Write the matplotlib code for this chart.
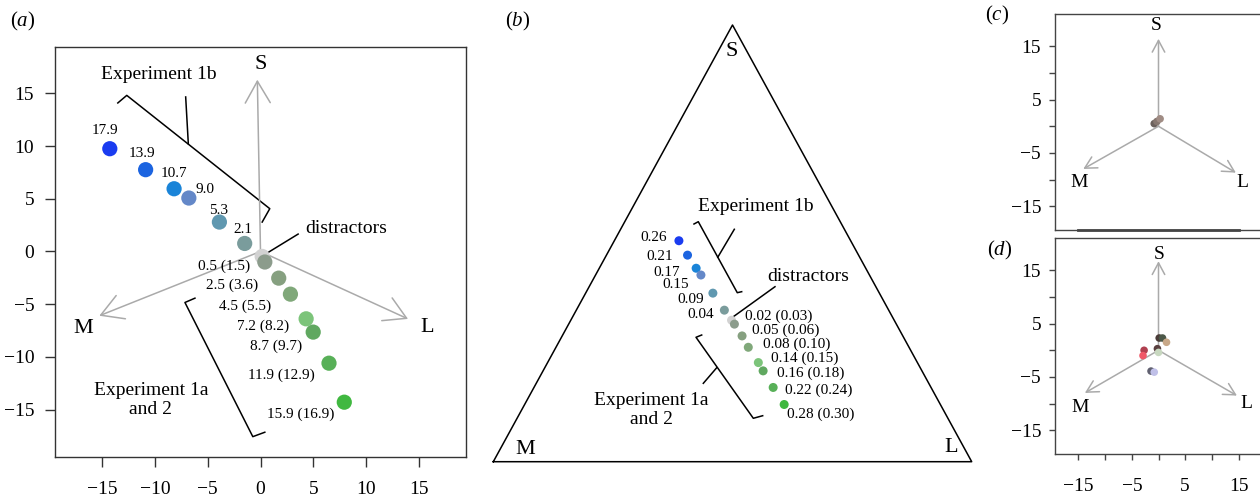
import matplotlib
matplotlib.use('Agg')
import matplotlib.pyplot as plt

plt.rcParams['font.family'] = ['Liberation Serif', 'DejaVu Serif']
plt.rcParams['mathtext.fontset'] = 'custom'
plt.rcParams['mathtext.rm'] = 'Liberation Serif'
plt.rcParams['mathtext.it'] = 'Liberation Serif:italic'

W, H = 1260, 497

# ---- data (a): cone-contrast space positions
a_x = [-14.3, -10.9, -8.2, -6.8, -3.9, -1.5, 0.16, 0.41, 1.73, 2.84, 4.33, 5.0, 6.5, 7.95]
a_y = [9.75, 7.76, 5.95, 5.07, 2.79, 0.76, -0.47, -1.0, -2.53, -4.05, -6.39, -7.65, -10.6, -14.3]
colors = ['#1a3cf0', '#1c64e0', '#1a84d8', '#6488c8', '#6098b0', '#7a9c9c', '#d2d2d2',
          '#8c9c8c', '#86a080', '#80a87a', '#7cc47a', '#60a860', '#58b058', '#40b840']
a_labels = ['17.9', '13.9', '10.7', '9.0', '5.3', '2.1', '',
            '0.5 (1.5)', '2.5 (3.6)', '4.5 (5.5)', '7.2 (8.2)', '8.7 (9.7)',
            '11.9 (12.9)', '15.9 (16.9)']

# ---- data (b): positions inside the triangle (M=(0,0), L=(1,0), S=(0.5,1))
b_x = [0.388, 0.406, 0.424, 0.434, 0.459, 0.483, 0.498, 0.504, 0.520, 0.533, 0.554, 0.564, 0.585, 0.608]
b_y = [0.506, 0.473, 0.443, 0.4275, 0.386, 0.347, 0.324, 0.315, 0.288, 0.262, 0.227, 0.208, 0.170, 0.131]
b_labels = ['0.26', '0.21', '0.17', '0.15', '0.09', '0.04', '',
            '0.02 (0.03)', '0.05 (0.06)', '0.08 (0.10)', '0.14 (0.15)', '0.16 (0.18)',
            '0.22 (0.24)', '0.28 (0.30)']

# ---- data (c) and (d)
c_x = [-0.8, -0.3, 0.3]
c_y = [0.5, 0.9, 1.4]
c_col = ['#6a605c', '#85766f', '#a08c84']
d_x = [0.13, 0.75, 1.5, -2.7, -2.9, -0.2, 0.0, -1.4, -0.8]
d_y = [2.3, 2.3, 1.5, 0.0, -1.0, 0.3, -0.4, -3.9, -4.1]
d_col = ['#4a3c38', '#4c5848', '#c8a888', '#b04050', '#f05868', '#5a4040', '#c8d8c0',
         '#606070', '#c0c0e8']

# label offsets in pixels (layout, y up)
a_off = [(-5, 18), (-4, 16), (0, 15), (16, 9), (-1, 12), (-2, 14), (0, 0),
         (-15, -4), (-21, -7), (-19, -12), (-17, -7), (-11, -14), (-14, -12), (-10, -12)]
b_off = [(-12, 3), (-15, -1), (-16, -4), (-12, -9), (-9, -6), (-10, -4), (0, 0),
         (11, 8), (10, 6), (15, 3), (13, 4), (14, -2), (12, -3), (3, -10)]

fig = plt.figure(figsize=(W / 100, H / 100), dpi=100)


def px_axes(l, t, r, b):
    return fig.add_axes([l / W, 1 - b / H, (r - l) / W, (b - t) / H])


def cone_arrows(ax, tips, labs, lab_pos, hl, hw, fs):
    for (tx, ty), lab, (lx, ly) in zip(tips, labs, lab_pos):
        ax.annotate('', xy=(tx, ty), xytext=(0, 0),
                    arrowprops=dict(arrowstyle='->,head_length=%g,head_width=%g' % (hl, hw),
                                    color='#aaaaaa', lw=1.1, shrinkA=0, shrinkB=0))
        ax.text(lx, ly, lab, fontsize=fs, ha='center', va='center')


def frame(ax, col):
    for s in ax.spines.values():
        s.set_color(col)
        s.set_linewidth(1.0)


# ================= panel (a)
ax = px_axes(55, 47, 466, 457)
ax.set_xlim(-19.5, 19.5)
ax.set_ylim(-19.5, 19.4)
frame(ax, '#333333')
ticks = [-15, -10, -5, 0, 5, 10, 15]
tick_txt = ['\u221215', '\u221210', '\u22125', '0', '5', '10', '15']
ax.set_xticks(ticks)
ax.set_yticks(ticks)
ax.set_xticklabels(tick_txt)
ax.set_yticklabels(tick_txt)
ax.tick_params(axis='both', direction='out', length=7, width=1, color='#333333', labelsize=14)
ax.tick_params(axis='x', pad=10)
ax.tick_params(axis='y', pad=8)

cone_arrows(ax, [(-0.3, 16.3), (-15.3, -6.1), (14.0, -6.4)], ['S', 'M', 'L'],
            [(0.0, 17.7), (-16.8, -7.3), (15.8, -7.2)], 1.56, 0.9, 16)
ax.scatter(a_x, a_y, s=120, c=colors, edgecolors='none', zorder=3)
for i, lab in enumerate(a_labels):
    if not lab:
        continue
    ha = 'center' if i < 6 else 'right'
    ax.annotate(lab, (a_x[i], a_y[i]), xytext=a_off[i], textcoords='offset pixels',
                ha=ha, va='center', fontsize=11)

# brackets and leader lines
ax.plot([-13.54, -12.69, 0.88, 0.16], [14.09, 14.81, 4.06, 2.79], color='black', lw=1.1)
ax.plot([-6.85, -7.10], [10.23, 14.66], color='black', lw=1.1)
ax.plot([-6.22, -7.17, -0.73, 0.41], [-4.43, -4.84, -17.57, -17.15], color='black', lw=1.1)
ax.plot([3.57, 0.63], [1.65, -0.15], color='black', lw=1.1)
ax.text(-9.63, 16.78, 'Experiment 1b', fontsize=14, ha='center', va='center')
ax.text(8.1, 2.2, 'distractors', fontsize=14, ha='center', va='center')
ax.text(-10.4, -14.1, 'Experiment 1a\nand 2', fontsize=14, ha='center', va='center',
        linespacing=1.2)

# ================= panel (b)
bx = px_axes(493.3, 25, 971.7, 461.7)
bx.set_xlim(0, 1)
bx.set_ylim(0, 1)
bx.axis('off')
bx.plot([0, 1, 0.5, 0], [0, 0, 1, 0], color='black', lw=1.1, clip_on=False)
bx.text(0.498, 0.939, 'S', fontsize=16, ha='center', va='center')
bx.text(0.066, 0.027, 'M', fontsize=16, ha='center', va='center')
bx.text(0.958, 0.033, 'L', fontsize=16, ha='center', va='center')
bx.scatter(b_x, b_y, s=42, c=colors, edgecolors='none', zorder=3)
for i, lab in enumerate(b_labels):
    if not lab:
        continue
    ha = 'right' if i < 6 else 'left'
    bx.annotate(lab, (b_x[i], b_y[i]), xytext=b_off[i],
                textcoords='offset pixels', ha=ha, va='center', fontsize=11)
bx.plot([0.4195, 0.4285, 0.5100, 0.5192], [0.5443, 0.5496, 0.3870, 0.3893], color='black', lw=1.1)
bx.plot([0.5038, 0.4693], [0.5322, 0.4683], color='black', lw=1.1)
bx.plot([0.4356, 0.4237, 0.5435, 0.5631], [0.2901, 0.2849, 0.0994, 0.1053], color='black', lw=1.1)
bx.plot([0.4670, 0.4390], [0.2152, 0.1795], color='black', lw=1.1)
bx.plot([0.5888, 0.5017], [0.4007, 0.3320], color='black', lw=1.1)
bx.text(0.5485, 0.5839, 'Experiment 1b', fontsize=14, ha='center', va='center')
bx.text(0.6585, 0.4236, 'distractors', fontsize=14, ha='center', va='center')
bx.text(0.3311, 0.1184, 'Experiment 1a\nand 2', fontsize=14, ha='center', va='center',
        linespacing=1.2)

# ================= panels (c) and (d)
small_labs = ['\u221215', '', '\u22125', '', '5', '', '15']


def small_panel(top, bottom, px, py, pc, tips, lab_pos, show_x):
    sx = px_axes(1055, top, 1262, bottom)
    sx.set_xlim(-19.4, 19.4)
    sx.set_ylim(-19.45, 21.0)
    frame(sx, '#444444')
    sx.set_yticks(ticks)
    sx.set_yticklabels(small_labs)
    sx.set_xticks(ticks)
    if show_x:
        sx.set_xticklabels(small_labs)
        sx.tick_params(axis='x', direction='out', length=4, width=1, color='#444444',
                       labelsize=14, pad=13)
    else:
        sx.set_xticklabels([])
        sx.tick_params(axis='x', length=0)
        sx.spines['bottom'].set_bounds(-15, 15)
        sx.spines['bottom'].set_linewidth(2.0)
        sx.plot([-19.4, 19.4], [-19.45, -19.45], color='#444444', lw=1.0, clip_on=False)
    sx.tick_params(axis='y', direction='out', length=4, width=1, color='#444444',
                   labelsize=14, pad=6)
    cone_arrows(sx, tips, ['S', 'M', 'L'], lab_pos, 0.84, 0.45, 14)
    sx.scatter(px, py, s=30, c=pc, edgecolors='none', zorder=3)
    return sx


small_panel(14.3, 230, c_x, c_y, c_col,
            [(0, 16.4), (-14.1, -8.0), (14.5, -8.7)],
            [(-0.5, 18.9), (-14.9, -10.5), (15.8, -10.5)], False)
small_panel(238.3, 454, d_x, d_y, d_col,
            [(0, 16.7), (-13.8, -8.0), (14.7, -8.5)],
            [(0.1, 18.0), (-14.7, -10.7), (16.4, -9.9)], True)

# panel letters
for lx, ly, t in [(23, 21.7, 'a'), (518, 21.7, 'b'), (997, 15, 'c'), (1000, 250, 'd')]:
    fig.text(lx / W, 1 - ly / H, r'$(\mathit{%s})$' % t, fontsize=15, ha='center', va='center')

fig.savefig('out.png', dpi=100)
